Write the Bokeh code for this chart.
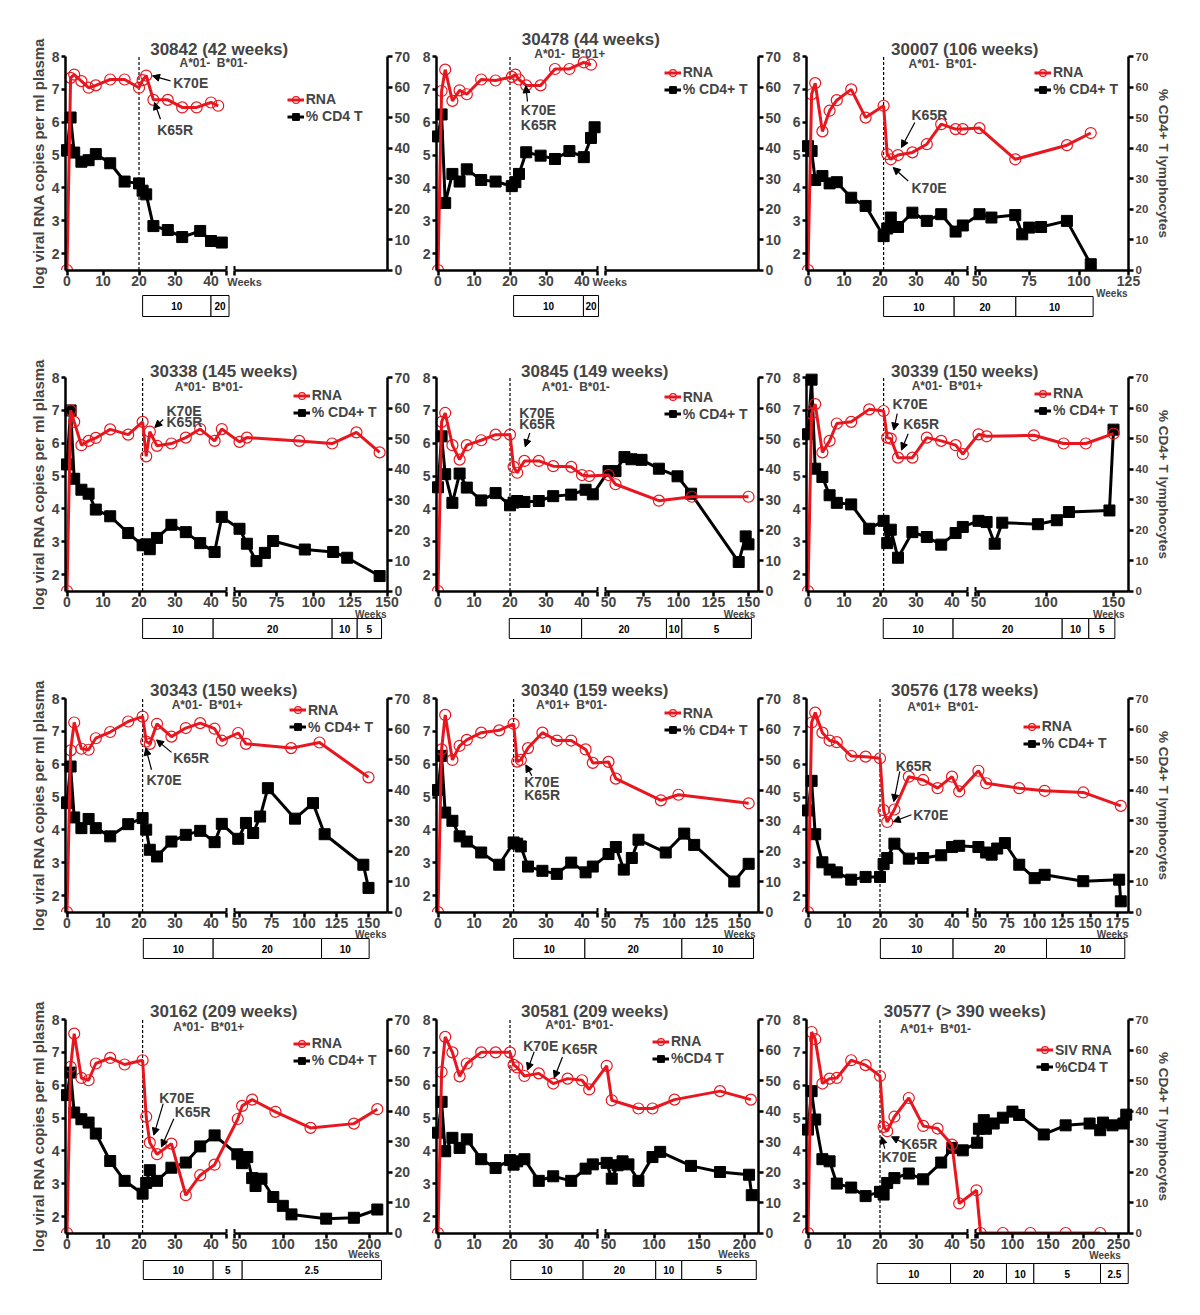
from bokeh.plotting import figure
from bokeh.models import (Range1d, LinearAxis, FixedTicker, Label, Arrow, NormalHead,
                          Legend, LegendItem)
from bokeh.layouts import row, column
from bokeh.core.properties import value
from bokeh.embed import file_html
from bokeh.resources import INLINE

# ---------------------------------------------------------------- data
SP = "\u00a0\u00a0"
P1_TITLE = "30842 (42 weeks)"
P1_HLA = "A*01-" + SP + "B*01-"
P1_LEGEND = ["RNA", "% CD4 T"]
P1_TREAT = 20
P1_RNA_WEEKS = [0, 1, 2, 4, 6, 8, 12, 16, 20, 21, 22, 24, 28, 32, 36, 40, 42]
P1_RNA_LOG = [1.5, 7.35, 7.45, 7.25, 7.05, 7.12, 7.3, 7.3, 7.05, 7.28, 7.42, 6.68, 6.68, 6.45, 6.45, 6.6, 6.5]
P1_CD4_WEEKS = [0, 1, 2, 4, 6, 8, 12, 16, 20, 21, 22, 24, 28, 32, 37, 40, 43]
P1_CD4_PCT = [39.3, 50, 38.5, 35.5, 36, 38, 35, 29, 28.4, 26, 24.8, 14.4, 13.1, 10.8, 12.8, 9.5, 9]
P1_DOSE_WEEKS = [21, 40, 45]
P1_DOSE_LABELS = ["10", "20"]
P1_TICKS2 = []

P2_TITLE = "30478 (44 weeks)"
P2_HLA = "A*01-" + SP + "B*01+"
P2_LEGEND = ["RNA", "% CD4+ T"]
P2_TREAT = 20
P2_RNA_WEEKS = [0, 1, 2, 4, 6, 8, 12, 16, 20.5, 21.5, 22.5, 24.5, 28.5, 32.5, 36.5, 40.5, 42.5]
P2_RNA_LOG = [1.5, 6.95, 7.6, 6.65, 6.97, 6.85, 7.3, 7.27, 7.38, 7.45, 7.3, 7.12, 7.12, 7.62, 7.62, 7.82, 7.75]
P2_CD4_WEEKS = [0, 1, 2, 4, 6, 8, 12, 16, 20.5, 21.5, 22.5, 24.5, 28.5, 32.5, 36.5, 40.5, 42.5, 43.5]
P2_CD4_PCT = [43.8, 51, 22, 31.5, 29, 33, 29.5, 29, 27.5, 28.8, 31.5, 38.6, 37.5, 36.4, 39, 37, 43.3, 46.8]
P2_DOSE_WEEKS = [21, 40.4, 44.6]
P2_DOSE_LABELS = ["10", "20"]
P2_TICKS2 = []

P3_TITLE = "30007 (106 weeks)"
P3_HLA = "A*01-" + SP + "B*01-"
P3_LEGEND = ["RNA", "% CD4+ T"]
P3_TREAT = 21
P3_RNA_WEEKS = [0, 1, 2, 4, 6, 8, 12, 16, 21, 22, 23, 25, 29, 33, 37, 41, 43, 50, 68, 94, 106]
P3_RNA_LOG = [1.5, 6.85, 7.19, 5.72, 6.35, 6.67, 7.0, 6.14, 6.5, 5.03, 4.87, 5.0, 5.08, 5.33, 5.94, 5.79, 5.79, 5.82, 4.87, 5.3, 5.67]
P3_CD4_WEEKS = [0, 1, 2, 4, 6, 8, 12, 16, 21, 22, 23, 25, 29, 33, 37, 41, 43, 50, 56, 68, 71.5, 75, 81, 94, 106]
P3_CD4_PCT = [40.6, 39, 29.5, 30.8, 28.4, 28.8, 23.7, 21, 11.1, 13.6, 17.2, 14.1, 18.8, 16.1, 18.3, 12.6, 14.6, 18.3, 17.2, 18, 11.7, 13.9, 14.1, 16.1, 1.9]
P3_DOSE_WEEKS = [21, 40.6, 68.3, 107.2]
P3_DOSE_LABELS = ["10", "20", "10"]
P3_TICKS2 = [50, 75, 100, 125]

P4_TITLE = "30338 (145 weeks)"
P4_HLA = "A*01-" + SP + "B*01-"
P4_LEGEND = ["RNA", "% CD4+ T"]
P4_TREAT = 21
P4_RNA_WEEKS = [0, 1, 2, 4, 6, 8, 12, 17, 21, 22, 23, 25, 29, 33, 37, 41, 43, 50, 55, 90.5, 112.8, 129.3, 145]
P4_RNA_LOG = [1.5, 7.0, 6.65, 5.94, 6.07, 6.16, 6.42, 6.26, 6.65, 5.6, 6.35, 5.92, 5.99, 6.17, 6.43, 6.07, 6.43, 6.04, 6.17, 6.07, 5.99, 6.33, 5.72]
P4_CD4_WEEKS = [0, 1, 2, 4, 6, 8, 12, 17, 21, 22, 23, 25, 29, 33, 37, 41, 43, 50, 55, 61.5, 67.2, 72.8, 94.3, 113.5, 123, 145]
P4_CD4_PCT = [41.5, 59.2, 36.8, 33.2, 31.9, 26.7, 24.5, 19, 15, 15.3, 13.7, 17.4, 21.7, 19.3, 15.7, 12.8, 24.3, 20.4, 15.5, 9.8, 12.5, 16.4, 13.6, 12.8, 10.9, 4.9]
P4_DOSE_WEEKS = [21, 40.6, 112.8, 129.8, 146.3]
P4_DOSE_LABELS = ["10", "20", "10", "5"]
P4_TICKS2 = [50, 75, 100, 125, 150]

P5_TITLE = "30845 (149 weeks)"
P5_HLA = "A*01-" + SP + "B*01-"
P5_LEGEND = ["RNA", "% CD4+ T"]
P5_TREAT = 20
P5_RNA_WEEKS = [0, 1, 2, 4, 6, 8, 12, 16, 20, 21, 22, 24, 28, 32, 37, 40, 42, 50, 55, 86, 109.5, 150]
P5_RNA_LOG = [1.5, 6.65, 6.92, 5.94, 5.5, 5.94, 6.09, 6.26, 6.26, 5.28, 5.1, 5.46, 5.46, 5.3, 5.28, 5.03, 5.0, 5.03, 4.75, 4.25, 4.37, 4.37]
P5_CD4_WEEKS = [0, 1, 2, 4, 6, 8, 12, 16, 20, 21, 22, 24, 28, 32, 37, 41, 43, 50, 55, 61.4, 66.4, 73.6, 86, 99.3, 109, 143, 148, 150]
P5_CD4_PCT = [34, 50.7, 38.3, 28.9, 38.5, 33.9, 29.7, 32.1, 28.1, 29, 29.5, 29.2, 29.5, 31.1, 31.6, 33.2, 31.7, 39.3, 39.3, 43.9, 43.2, 43, 40.1, 37.6, 31.9, 9.5, 17.9, 15.3]
P5_DOSE_WEEKS = [19.8, 39.9, 91.4, 102.4, 152.1]
P5_DOSE_LABELS = ["10", "20", "10", "5"]
P5_TICKS2 = [50, 75, 100, 125, 150]

P6_TITLE = "30339 (150 weeks)"
P6_HLA = "A*01-" + SP + "B*01+"
P6_LEGEND = ["RNA", "% CD4+ T"]
P6_TREAT = 21
P6_RNA_WEEKS = [0, 1, 2, 4, 6, 8, 12, 17, 21, 22, 23, 25, 29, 33, 37, 41, 43, 50, 56, 91, 113, 129.5, 150]
P6_RNA_LOG = [1.5, 6.9, 7.19, 5.72, 6.07, 6.6, 6.65, 7.03, 6.98, 6.17, 6.14, 5.56, 5.56, 6.17, 6.07, 5.94, 5.67, 6.27, 6.21, 6.24, 5.99, 5.99, 6.29]
P6_CD4_WEEKS = [0, 1, 2, 4, 6, 8, 12, 17, 21, 22, 23, 25, 29, 33, 37, 41, 43, 50, 56, 62, 67.6, 94, 108, 117, 147, 150]
P6_CD4_PCT = [51.4, 69.3, 40.1, 37.4, 31.4, 28.9, 28.4, 20.4, 23, 15.7, 20.1, 10.9, 19.3, 17.7, 15.2, 19, 21, 23, 22.6, 15.5, 22.4, 21.9, 23.2, 25.9, 26.4, 52.9]
P6_DOSE_WEEKS = [20.9, 40.3, 112, 131.7, 151]
P6_DOSE_LABELS = ["10", "20", "10", "5"]
P6_TICKS2 = [50, 100, 150]

P7_TITLE = "30343 (150 weeks)"
P7_HLA = "A*01-" + SP + "B*01+"
P7_LEGEND = ["RNA", "% CD4+ T"]
P7_TREAT = 21
P7_RNA_WEEKS = [0, 1, 2, 4, 6, 8, 12, 17, 21, 22, 23, 25, 29, 33, 37, 41, 43, 49, 55, 90, 112, 150]
P7_RNA_LOG = [1.5, 6.42, 7.27, 6.47, 6.44, 6.79, 6.98, 7.3, 7.45, 6.69, 6.62, 7.23, 6.84, 7.1, 7.25, 7.08, 6.72, 6.95, 6.62, 6.49, 6.66, 5.6]
P7_CD4_WEEKS = [0, 1, 2, 4, 6, 8, 12, 17, 21, 22, 23, 25, 29, 33, 37, 41, 43, 49, 55, 60.6, 66, 72, 93, 107, 116, 146, 150]
P7_CD4_PCT = [35.7, 47.7, 31, 27.5, 30.5, 27.5, 24.8, 28.8, 30.8, 27, 20.4, 18.2, 23.1, 25.3, 26.6, 22.9, 28.9, 24, 29.2, 25.9, 31.3, 40.6, 30.6, 35.7, 25.5, 15.5, 7.9]
P7_DOSE_WEEKS = [21.2, 40.6, 113.6, 150.5]
P7_DOSE_LABELS = ["10", "20", "10"]
P7_TICKS2 = [50, 75, 100, 125, 150]

P8_TITLE = "30340 (159 weeks)"
P8_HLA = "A*01+" + SP + "B*01-"
P8_LEGEND = ["RNA", "% CD4+ T"]
P8_TREAT = 21
P8_RNA_WEEKS = [0, 1, 2, 4, 6, 8, 12, 17, 21, 22, 23, 25, 29, 33, 37, 41, 43, 50, 55.6, 90, 103.4, 157]
P8_RNA_LOG = [1.5, 6.45, 7.5, 6.13, 6.56, 6.74, 6.96, 7.03, 7.23, 6.08, 6.13, 6.49, 6.96, 6.72, 6.72, 6.45, 6.04, 6.07, 5.56, 4.9, 5.07, 4.81]
P8_CD4_WEEKS = [0, 1, 2, 4, 6, 8, 12, 17, 21, 22, 23, 25, 29, 33, 37, 41, 43, 50, 55.6, 61.7, 67.8, 72.9, 93.7, 107.8, 115.4, 146, 157]
P8_CD4_PCT = [40, 51.2, 32.6, 29.9, 24.8, 23.1, 19.5, 15.5, 22.8, 22.4, 21.5, 14.9, 13.5, 12.5, 16.2, 13, 14.9, 19, 21.3, 13.9, 17.7, 23.7, 19.5, 25.7, 22, 10, 15.8]
P8_DOSE_WEEKS = [21, 40.8, 106, 160.7]
P8_DOSE_LABELS = ["10", "20", "10"]
P8_TICKS2 = [50, 75, 100, 125, 150]

P9_TITLE = "30576 (178 weeks)"
P9_HLA = "A*01+" + SP + "B*01-"
P9_LEGEND = ["RNA", "% CD4+ T"]
P9_TREAT = 20
P9_RNA_WEEKS = [0, 1, 2, 4, 6, 8, 12, 16, 20, 21, 22, 24, 28, 32, 36, 40, 42, 49, 56, 86, 109, 144, 178]
P9_RNA_LOG = [1.5, 7.27, 7.57, 6.96, 6.72, 6.67, 6.25, 6.23, 6.18, 4.6, 4.24, 4.62, 5.62, 5.52, 5.27, 5.62, 5.17, 5.8, 5.42, 5.27, 5.19, 5.14, 4.73]
P9_CD4_WEEKS = [0, 1, 2, 4, 6, 8, 12, 16, 20, 21, 22, 24, 28, 32, 37, 40, 42, 49, 56, 61, 66, 73, 86, 100, 109, 144, 176.5, 178]
P9_CD4_PCT = [33.3, 43, 25.5, 16.3, 13.9, 13, 10.6, 11.5, 11.5, 15.7, 17.7, 22.4, 17.5, 17.7, 18.6, 21.3, 21.7, 21.3, 19.5, 18.8, 20.8, 22.6, 15.5, 11.1, 12.2, 10.1, 10.6, 3.5]
P9_DOSE_WEEKS = [20.1, 40.3, 110.7, 181.6]
P9_DOSE_LABELS = ["10", "20", "10"]
P9_TICKS2 = [50, 75, 100, 125, 150, 175]

P10_TITLE = "30162 (209 weeks)"
P10_HLA = "A*01-" + SP + "B*01+"
P10_LEGEND = ["RNA", "% CD4+ T"]
P10_TREAT = 21
P10_RNA_WEEKS = [0, 1, 2, 4, 6, 8, 12, 16, 21, 22, 23, 25, 29, 33, 37, 41, 48, 53, 64.6, 91.5, 132, 182, 209]
P10_RNA_LOG = [1.5, 6.56, 7.57, 6.22, 6.15, 6.66, 6.83, 6.63, 6.76, 5.04, 4.25, 3.9, 4.22, 2.65, 3.26, 3.58, 4.97, 5.37, 5.56, 5.19, 4.7, 4.83, 5.27]
P10_CD4_WEEKS = [0, 1, 2, 4, 6, 8, 12, 16, 21, 22, 23, 25, 29, 33, 37, 41, 47.5, 53, 59, 64.6, 68.5, 75.4, 89, 100, 110, 150, 182, 209]
P10_CD4_PCT = [45.2, 52.6, 39.5, 37.3, 36.2, 32.6, 23.6, 17.1, 12.9, 16.4, 20.6, 17.1, 21.4, 23.1, 28.4, 32, 25.8, 22.9, 24.9, 18, 15.4, 17.8, 11.8, 8.9, 6.1, 4.7, 5, 7.7]
P10_DOSE_WEEKS = [21.2, 40.6, 53.1, 213.8]
P10_DOSE_LABELS = ["10", "5", "2.5"]
P10_TICKS2 = [50, 100, 150, 200]

P11_TITLE = "30581 (209 weeks)"
P11_HLA = "A*01-" + SP + "B*01-"
P11_LEGEND = ["RNA", "%CD4 T"]
P11_TREAT = 20
P11_RNA_WEEKS = [0, 1, 2, 4, 6, 8, 12, 16, 20, 21, 22, 24, 28, 32, 36, 40, 42, 48, 53.6, 83, 98.5, 122.8, 173, 207]
P11_RNA_LOG = [1.5, 6.4, 7.47, 7.0, 6.27, 6.66, 7.0, 7.0, 7.0, 6.62, 6.54, 6.28, 6.36, 6.05, 6.2, 6.15, 5.87, 6.59, 5.54, 5.29, 5.29, 5.56, 5.82, 5.56]
P11_CD4_WEEKS = [0, 1, 2, 4, 6, 8, 12, 16, 20, 21, 22, 24, 28, 32, 37, 41, 43, 48, 53.6, 60, 65.5, 72, 83, 98.5, 107, 141, 173, 205, 208]
P11_CD4_PCT = [32.9, 43, 26.8, 31.2, 27.9, 30.7, 24.2, 21.3, 23.9, 22.4, 23.5, 24.2, 17.1, 18.6, 17.1, 21.1, 22.5, 23, 17.8, 22.2, 23.5, 22.5, 17.1, 24.9, 26.6, 22, 20, 19.1, 12.4]
P11_DOSE_WEEKS = [20.2, 40.3, 102.1, 130.8, 213]
P11_DOSE_LABELS = ["10", "20", "10", "5"]
P11_TICKS2 = [50, 100, 150, 200]

P12_TITLE = "30577 (> 390 weeks)"
P12_HLA = "A*01+" + SP + "B*01-"
P12_LEGEND = ["SIV RNA", "%CD4 T"]
P12_TREAT = 20
P12_RNA_WEEKS = [0, 1, 2, 4, 6, 8, 12, 16, 20, 21, 22, 24, 28, 32, 36, 40, 42, 48.6, 54.3, 86, 125, 175, 224]
P12_RNA_LOG = [1.5, 7.62, 7.4, 6.05, 6.2, 6.22, 6.76, 6.61, 6.28, 4.73, 4.6, 5.04, 5.61, 4.76, 4.68, 4.19, 2.4, 2.8, 1.5, 1.5, 1.5, 1.5, 1.5]
P12_CD4_WEEKS = [0, 1, 2, 4, 6, 8, 12, 16, 20, 21, 22, 24, 28, 32, 37, 40, 43, 49.5, 52, 58.9, 62, 73, 86, 99.6, 109, 144, 175, 209, 224, 228, 241.5, 257, 261]
P12_CD4_PCT = [33.9, 46.5, 37.2, 24.2, 23.5, 16.2, 14.9, 12.1, 13.5, 12.6, 16.4, 18, 19.5, 17.6, 23.1, 27.9, 27.1, 29.6, 34.2, 37, 34.2, 35.9, 37.8, 39.8, 38.7, 32.3, 35.3, 35.9, 33.7, 36.2, 35.3, 35.9, 38.8]
P12_DOSE_WEEKS = [19.2, 39.6, 91.1, 129.9, 224.5, 263.8]
P12_DOSE_LABELS = ["10", "20", "10", "5", "2.5"]
P12_TICKS2 = [50, 100, 150, 200, 250]

SEG1_TICKS = [0, 10, 20, 30, 40]
LEFT_TICKS = [2, 3, 4, 5, 6, 7, 8]
RIGHT_TICKS = [0, 10, 20, 30, 40, 50, 60, 70]
LEFT_LABEL = "log viral RNA copies per ml plasma"
RIGHT_LABEL = "% CD4+ T lymphocytes"

DATA = []
for i in range(1, 13):
    g = globals()
    DATA.append(dict(
        title=g[f"P{i}_TITLE"], hla=g[f"P{i}_HLA"], legend=g[f"P{i}_LEGEND"], treat=g[f"P{i}_TREAT"],
        rw=g[f"P{i}_RNA_WEEKS"], rv=g[f"P{i}_RNA_LOG"], cw=g[f"P{i}_CD4_WEEKS"], cv=g[f"P{i}_CD4_PCT"],
        dose=g[f"P{i}_DOSE_WEEKS"], dlab=g[f"P{i}_DOSE_LABELS"], ticks2=g[f"P{i}_TICKS2"]))

# ---------------------------------------------------------------- layout / style
RED = "#e8161e"
FONT = "Liberation Sans"
K = 213.5 / 6.5          # px per log unit
BOTTOM = 272             # px below the "8" line to the bottom of a cell
PW = 322                 # px between the two y axes
SEG1_END, SEG2_START = 161, 169
COLB = [(65, 30), (19, 30), (18, 45)]   # px left / right of the axes in each column
ROWTOP = [56, 49, 49, 49]               # px above the "8" line in each row

LAY = [
    dict(seg2=None, title=(153.7, -7), hla=(148, 6.2), leg=(221.7, 34.5), weeks=("in", 161.7, 225), box=(239, 260),
         txt=[("K70E", 107.7, 7.19), ("K65R", 91.7, 5.77)], arr=[(105, 7.26, 87, 7.41), (95, 6.09, 89, 6.6)]),
    dict(seg2=None, title=(154.3, -16.7), hla=(133.3, -3), leg=(227.7, 7.5), weeks=("in", 156, 225), box=(239, 260),
         txt=[("K70E", 84.3, 6.36), ("K65R", 84.3, 5.92)], arr=[(91, 6.63, 89.3, 7.11)]),
    dict(seg2=(50, 173, 125, 322), title=(158.3, -7), hla=(136, 7.9), leg=(228, 7.5), weeks=("out", 321, 236.5), box=(240, 260),
         txt=[("K65R", 105, 6.22), ("K70E", 105, 4.01)], arr=[(108.3, 5.99, 95, 5.23), (101.7, 4.21, 86.7, 4.62)]),
    dict(seg2=(50, 174, 150, 321.5), title=(158.3, -6), hla=(143.3, 9.5), leg=(227.7, 9.5), weeks=("out", 321, 236.5), box=(241, 261),
         txt=[("K70E", 101, 6.98), ("K65R", 101, 6.63)], arr=[(97.7, 6.72, 89.3, 6.48)]),
    dict(seg2=(50, 172, 150, 312), title=(158.3, -6), hla=(139.3, 9.2), leg=(227.7, 11), weeks=("out", 318.7, 236.5), box=(241, 261),
         txt=[("K70E", 82.7, 6.93), ("K65R", 82.7, 6.58)], arr=[(93.3, 6.31, 88.7, 5.89)]),
    dict(seg2=(50, 172, 150, 307), title=(158.3, -6), hla=(140.7, 8.5), leg=(228, 7.5), weeks=("out", 318, 236.5), box=(241, 261),
         txt=[("K70E", 86, 7.19), ("K65R", 96.7, 6.58)], arr=[(90.7, 6.9, 87.3, 6.4), (101.7, 6.29, 95, 5.79)]),
    dict(seg2=(50, 174, 150, 303), title=(158.3, -7.7), hla=(141.7, 6.9), leg=(224, 3), weeks=("out", 321, 236), box=(240, 260),
         txt=[("K65R", 107.7, 6.18), ("K70E", 81, 5.52)], arr=[(106, 6.36, 91, 6.74), (86, 5.83, 80.3, 6.49)]),
    dict(seg2=(50, 172, 150, 303), title=(158.3, -7.7), hla=(135, 6.9), leg=(227.7, 6), weeks=("out", 319, 236), box=(240, 260),
         txt=[("K70E", 87.7, 5.47), ("K65R", 87.7, 5.07)], arr=[(95.3, 5.65, 89.3, 5.98)]),
    dict(seg2=(50, 173, 175, 311), title=(158.3, -7.7), hla=(136.3, 8.5), leg=(216.7, 19.5), weeks=("out", 321.7, 236), box=(240, 260),
         txt=[("K65R", 89.3, 5.96), ("K70E", 106.7, 4.44)], arr=[(93.3, 5.78, 87.3, 4.86), (105, 4.46, 86.7, 4.25)]),
    dict(seg2=(50, 174, 200, 304), title=(158.3, -8.3), hla=(143.3, 7.9), leg=(227.7, 15.5), weeks=("out", 314.3, 235), box=(241, 260),
         txt=[("K70E", 93.7, 5.62), ("K65R", 109.3, 5.17)], arr=[(97.7, 5.44, 88.3, 4.48), (108.3, 4.98, 96, 4.12)]),
    dict(seg2=(50, 172, 200, 308), title=(158.3, -8.3), hla=(142.7, 5.6), leg=(216, 13.5), weeks=("out", 313.3, 235), box=(241, 260),
         txt=[("K70E", 86.7, 7.2), ("K65R", 125.3, 7.1)], arr=[(97.7, 7.02, 91, 6.46), (126, 6.86, 117.7, 6.22)]),
    dict(seg2=(50, 171, 250, 312), title=(158.3, -8.3), hla=(129, 9.5), leg=(230, 22), weeks=("out", 314.3, 236), box=(244, 264),
         txt=[("K65R", 95, 4.2), ("K70E", 75, 3.8)], arr=[(96.7, 4.25, 85, 4.43), (78.3, 4.07, 75, 4.43)]),
]


def ry(rel):
    return 8 - rel / K


def pct(lg):
    return (lg - 1.5) * 70 / 6.5


def to_u(w, seg2):
    if seg2 is None or w <= 46:
        return 1.5 + 3.6 * w
    wa, ua, wb, ub = seg2
    return ua + (w - wa) * (ub - ua) / (wb - wa)


def r2(u):
    return round(u * 2) / 2


def style(ax, size, tick_out=5, standoff=2):
    ax.axis_line_width = 2.5
    ax.major_tick_line_width = 2.5
    ax.major_tick_out = tick_out
    ax.major_tick_in = 0
    ax.minor_tick_line_color = None
    ax.major_label_standoff = standoff
    ax.major_label_text_font = FONT
    ax.major_label_text_font_size = size
    ax.major_label_text_font_style = "bold"
    ax.axis_label_text_font = FONT
    ax.axis_label_text_font_style = "bold"


def make_panel(d, lay, rr, col):
    bl, br = COLB[col]
    top = ROWTOP[rr]
    fh = top + BOTTOM
    seg2 = lay["seg2"]
    y0, y1 = ry(BOTTOM), ry(-top)
    p = figure(frame_width=bl + PW + br, frame_height=fh, min_border=0,
               x_range=Range1d(-bl, PW + br), y_range=Range1d(y0, y1),
               x_axis_location=None, y_axis_location=None,
               toolbar_location=None, output_backend="svg", outline_line_color=None)
    p.extra_y_ranges = {"cd4": Range1d(pct(y0), pct(y1))}
    p.grid.visible = False

    yl = LinearAxis(ticker=FixedTicker(ticks=LEFT_TICKS), bounds=(1.5, 8), fixed_location=0)
    style(yl, "14px", tick_out=4, standoff=2)
    if col == 0:
        yl.axis_label = LEFT_LABEL
        yl.axis_label_text_font_size = "15px"
        yl.axis_label_standoff = 2
    p.add_layout(yl, "left")

    yr = LinearAxis(y_range_name="cd4", ticker=FixedTicker(ticks=RIGHT_TICKS), bounds=(0, 70),
                    fixed_location=PW)
    style(yr, "11.5px" if col == 2 else "14px")
    if col == 2:
        yr.axis_label = RIGHT_LABEL
        yr.axis_label_text_font_size = "13.5px"
        yr.axis_label_standoff = 5
    p.add_layout(yr, "right")

    ta = [to_u(w, None) for w in SEG1_TICKS] + [SEG1_END]
    ova = {to_u(w, None): str(w) for w in SEG1_TICKS}
    ova[SEG1_END] = ""
    xa = LinearAxis(ticker=FixedTicker(ticks=ta), bounds=(0, SEG1_END), fixed_location=1.5,
                    major_label_overrides=ova)
    style(xa, "14px", tick_out=5, standoff=1)
    p.add_layout(xa, "below")

    tb = [SEG2_START] + [r2(to_u(w, seg2)) for w in d["ticks2"]]
    ovb = {r2(to_u(w, seg2)): str(w) for w in d["ticks2"]}
    ovb[SEG2_START] = ""
    xb = LinearAxis(ticker=FixedTicker(ticks=tb), bounds=(SEG2_START, PW), fixed_location=1.5,
                    major_label_overrides=ovb)
    style(xb, "14px", tick_out=5, standoff=1)
    p.add_layout(xb, "below")

    # treatment start
    ut = to_u(d["treat"], seg2)
    p.segment(x0=[ut], y0=[1.5], x1=[ut], y1=[8], line_color="black", line_width=1.2, line_dash="3 2")

    cu = [to_u(w, seg2) for w in d["cw"]]
    ru = [to_u(w, seg2) for w in d["rw"]]
    cl = p.line(cu, d["cv"], y_range_name="cd4", line_color="black", line_width=3)
    cs = p.scatter(cu, d["cv"], y_range_name="cd4", marker="square", size=11,
                   fill_color="black", line_color="black")
    rl = p.line(ru, d["rv"], line_color=RED, line_width=3)
    rs = p.scatter(ru, d["rv"], marker="circle", size=11, fill_color=None,
                   line_color=RED, line_width=1.2)

    # mask below the x axis
    p.quad(left=[-bl - 5], right=[PW + br + 5], bottom=[y0 - 1], top=[1.5], fill_color="white", line_color=None)
    # break marks
    p.segment(x0=[SEG1_END, SEG2_START], y0=[1.5, 1.5], x1=[SEG1_END, SEG2_START],
              y1=[ry(213.5 - 4)] * 2, line_color="black", line_width=2)

    # dosage boxes
    du = [to_u(w, seg2) for w in d["dose"]]
    bt, bb = ry(lay["box"][0]), ry(lay["box"][1])
    p.quad(left=du[:-1], right=du[1:], top=bt, bottom=bb, fill_color="white",
           line_color="black", line_width=1)
    p.text(x=[(a + b) / 2 for a, b in zip(du[:-1], du[1:])], y=(bt + bb) / 2, text=d["dlab"],
           text_font=value(FONT), text_font_size="10px", text_font_style="bold",
           text_align="center", text_baseline="middle")

    # texts
    tx, trel = lay["title"]
    p.add_layout(Label(x=tx, y=ry(trel), text=d["title"], text_align="center", text_baseline="middle",
                       text_font=FONT, text_font_size="17px", text_font_style="bold"))
    hx, hrel = lay["hla"]
    p.add_layout(Label(x=hx, y=ry(hrel), text=d["hla"], text_align="center", text_baseline="middle",
                       text_font=FONT, text_font_size="12px", text_font_style="bold"))
    kind, wx, wrel = lay["weeks"]
    p.add_layout(Label(x=wx, y=ry(wrel), text="Weeks", text_align="left" if kind == "in" else "right",
                       text_baseline="middle", text_font=FONT,
                       text_font_size="11px" if kind == "in" else "10px", text_font_style="bold"))
    for t, x, y in lay["txt"]:
        p.add_layout(Label(x=x, y=y, text=t, text_align="left", text_baseline="middle",
                           text_font=FONT, text_font_size="14px", text_font_style="bold"))
    for x0, y0a, x1, y1a in lay["arr"]:
        p.add_layout(Arrow(end=NormalHead(size=7, fill_color="black", line_color="black", line_width=1),
                           x_start=x0, y_start=y0a, x_end=x1, y_end=y1a, line_width=1.2, line_color="black"))

    lx, lt = lay["leg"]
    leg = Legend(items=[LegendItem(label=d["legend"][0], renderers=[rl, rs]),
                        LegendItem(label=d["legend"][1], renderers=[cl, cs])],
                 location=(lx + bl, fh - top - lt - 34), orientation="vertical",
                 glyph_width=17, glyph_height=17, label_height=17, label_width=10,
                 spacing=0, padding=0, margin=0, label_standoff=2,
                 border_line_color=None, background_fill_alpha=0,
                 label_text_font=FONT, label_text_font_size="14px", label_text_font_style="bold")
    p.add_layout(leg)
    return p


rows = []
for r in range(4):
    figs = [make_panel(DATA[r * 3 + c], LAY[r * 3 + c], r, c) for c in range(3)]
    rows.append(row(*figs))
layout = column(*rows)

open("out.html", "w").write(file_html(layout, INLINE))
